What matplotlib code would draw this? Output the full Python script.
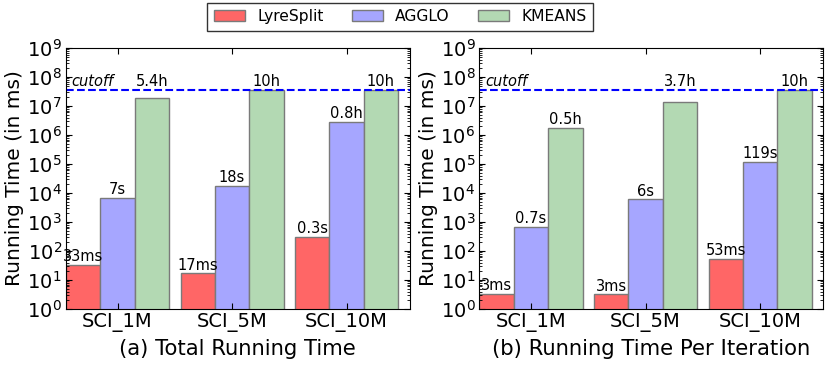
import matplotlib
matplotlib.use("Agg")
import matplotlib.pyplot as plt
from matplotlib.ticker import LogLocator
import numpy as np

datasets = ["SCI_1M", "SCI_5M", "SCI_10M"]
methods = ["LyreSplit", "AGGLO", "KMEANS"]

# running time in ms
total_lyre = [33, 17, 300]
total_agglo = [7000, 18000, 2.88e6]
total_kmeans = [1.944e7, 3.6e7, 3.6e7]
total_labels = [["33ms", "17ms", "0.3s"], ["7s", "18s", "0.8h"], ["5.4h", "10h", "10h"]]

iter_lyre = [3.3, 3.2, 53]
iter_agglo = [700, 6000, 119000]
iter_kmeans = [1.8e6, 1.332e7, 3.6e7]
iter_labels = [["3ms", "3ms", "53ms"], ["0.7s", "6s", "119s"], ["0.5h", "3.7h", "10h"]]

cutoff = 3.6e7
colors = ["#ff6666", "#a6a6ff", "#b3d9b3"]

plt.rcParams["xtick.direction"] = "in"
plt.rcParams["ytick.direction"] = "in"
plt.rcParams["xtick.top"] = True
plt.rcParams["ytick.right"] = True


def draw(ax, series, labels, title):
    x = np.arange(len(datasets))
    width = 0.3
    for i, (vals, lbls) in enumerate(zip(series, labels)):
        bars = ax.bar(x + i * width, vals, width, align="edge", color=colors[i],
                      edgecolor="#7a7a7a", linewidth=1, label=methods[i])
        for b, t in zip(bars, lbls):
            h = b.get_height()
            # labels of bars close to the cutoff sit above the cutoff line
            y = cutoff * 1.12 if h > 1e7 else h * 1.06
            ax.text(b.get_x() + width / 2, y, t,
                    ha="center", va="bottom", fontsize=10.5)
    ax.axhline(cutoff, color="blue", linestyle="--", linewidth=1.5)
    ax.text(0.05, cutoff * 1.12, "cutoff", fontsize=10.5, style="italic",
            ha="left", va="bottom")
    ax.set_yscale("log")
    ax.set_ylim(1, 1e9)
    ax.yaxis.set_major_locator(LogLocator(base=10, numticks=20))
    ax.yaxis.set_minor_locator(LogLocator(base=10, subs=np.arange(2, 10), numticks=20))
    ax.set_xlim(0, 3)
    ax.set_xticks(x + 1.5 * width)
    ax.set_xticklabels(datasets)
    ax.tick_params(axis="both", labelsize=14, length=4, pad=3)
    ax.tick_params(axis="y", which="minor", length=2)
    ax.set_ylabel("Running Time (in ms)", fontsize=14.5, labelpad=2)
    ax.set_xlabel(title, fontsize=15.2, labelpad=5)


fig, (ax1, ax2) = plt.subplots(1, 2, figsize=(8.3, 3.67), dpi=100)
draw(ax1, [total_lyre, total_agglo, total_kmeans], total_labels, "(a) Total Running Time")
draw(ax2, [iter_lyre, iter_agglo, iter_kmeans], iter_labels, "(b) Running Time Per Iteration")

handles, lbls = ax1.get_legend_handles_labels()
fig.legend(handles, lbls, loc="upper center", ncol=3, fontsize=11.2,
           bbox_to_anchor=(0.482, 1.0), fancybox=False, edgecolor="black",
           handlelength=2, columnspacing=1.8, borderaxespad=0.2)

fig.subplots_adjust(left=0.0795, right=0.9916, top=0.869, bottom=0.158, wspace=0.2035)
fig.savefig("out.png")
